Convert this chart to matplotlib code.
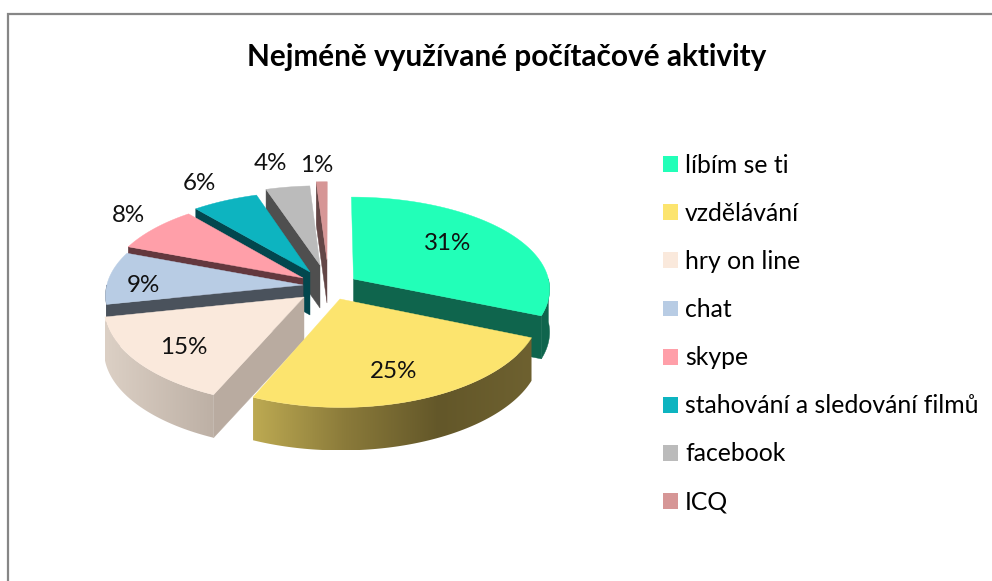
import matplotlib
matplotlib.use("Agg")
import matplotlib.patches as patches
import matplotlib.pyplot as plt
import numpy as np
from matplotlib.colors import LinearSegmentedColormap, to_rgb

title = "Nejméně využívané počítačové aktivity"
categories = ["líbím se ti", "vzdělávání", "hry on line", "chat", "skype",
              "stahování a sledování filmů", "facebook", "ICQ"]
values = [31, 25, 15, 9, 8, 6, 4, 1]

top_colors = ["#22FFB8", "#FCE46E", "#FAE9DC", "#B8CCE4",
              "#FF9FA9", "#0DB4C0", "#BBBBBB", "#D69696"]
wall_colors = ["#0F654D", "#6B5F2D", "#B9ABA0", "#4A525C",
               "#63383E", "#02474E", "#4F4F4F", "#634646"]
# left to right shading of the round walls, the others stay flat
wall_gradients = {
    1: ["#BDAA52", "#8A7A3A", "#635729", "#6E6130"],
    2: ["#DCD0C5", "#BDB0A5"],
}

# where the tip of every exploded slice ends up, in pixels
tips = [(353.5, 279), (340, 299), (304, 297), (303, 285),
        (303, 278), (310, 272), (320, 265), (327, 260)]
label_xy = [(448, 243), (394, 371), (184, 347), (143, 285),
            (128, 216), (199, 183), (270, 163), (317, 165)]
draw_order = [7, 6, 5, 4, 3, 0, 2, 1]

# flat perspective of the pie plane
cx, cy = 330, 289
fx, fy = 197, 93.5
persp_x, persp_y = 0.10, 0.115
depth = 43


def project(u, v):
    return cx + fx * u / (1 + persp_x * v), cy - fy * v / (1 + persp_y * v)


def unproject(x, y):
    d = cy - y
    v = d / (fy - persp_y * d)
    return (x - cx) * (1 + persp_x * v) / fx, v


def rim(u0, v0, a, b):
    t = np.radians(np.linspace(a, b, max(int(abs(b - a)) + 2, 3)))
    x, y = project(u0 + np.sin(t), v0 + np.cos(t))
    return np.column_stack([x, y])


def drop(pts):
    return pts + [0, depth]


def add_wall(ax, pts, color, zorder, gradient=None):
    if gradient is None:
        ax.add_patch(patches.Polygon(pts, fc=color, ec=color, lw=0.3, zorder=zorder))
        return
    clip = patches.Polygon(pts, transform=ax.transData, fc="none", ec="none")
    cmap = LinearSegmentedColormap.from_list("wall", [to_rgb(c) for c in gradient])
    x0, x1 = pts[:, 0].min(), pts[:, 0].max()
    im = ax.imshow(np.linspace(0, 1, 256).reshape(1, -1), cmap=cmap, aspect="auto",
                   extent=[x0, x1, pts[:, 1].max(), pts[:, 1].min()], zorder=zorder)
    im.set_clip_path(clip)


fig = plt.figure(figsize=(9.92, 5.81), dpi=100)
ax = fig.add_axes([0, 0, 1, 1])

total = sum(values)
edges = np.cumsum([0] + values) / total * 360

for rank, i in enumerate(draw_order):
    a, b = edges[i], edges[i + 1]
    u0, v0 = unproject(*tips[i])
    z = 10 + rank * 3
    apex = np.array([project(u0, v0)])
    arc = rim(u0, v0, a, b)

    # radial walls that face the viewer
    if 180 < a < 360:
        edge = np.vstack([apex, arc[:1]])
        add_wall(ax, np.vstack([edge, drop(edge)[::-1]]), wall_colors[i], z)
    if 0 < b < 180:
        edge = np.vstack([apex, arc[-1:]])
        add_wall(ax, np.vstack([edge, drop(edge)[::-1]]), wall_colors[i], z)

    # round wall, only the front half of the circle shows
    lo, hi = max(a, 90), min(b, 270)
    if lo < hi:
        front = rim(u0, v0, lo, hi)
        add_wall(ax, np.vstack([front, drop(front)[::-1]]), wall_colors[i], z + 1,
                 wall_gradients.get(i))

    ax.add_patch(patches.Polygon(np.vstack([apex, arc]), fc=top_colors[i],
                                 ec=top_colors[i], lw=0.3, zorder=z + 2))

for value, (x, y) in zip(values, label_xy):
    ax.text(x, y, f"{value}%", fontsize=17.4, family="Lato", color="#111111",
            ha="center", va="center", zorder=50)

ax.text(507, 57, title, fontsize=21.4, family="Lato", fontweight="bold",
        color="black", ha="center", va="center")

handles = [patches.Patch(fc=c, ec="none") for c in top_colors]
ax.legend(handles, categories, loc="upper left", bbox_to_anchor=(655.6, 146.5),
          bbox_transform=ax.transData, frameon=False,
          prop={"family": "Lato", "size": 17.8},
          labelspacing=1.015, handlelength=0.61, handleheight=0.61, handletextpad=0.28,
          borderpad=0.3, borderaxespad=0)

# frame of the original chart, cut off on the right and at the bottom
ax.plot([8, 8, 992], [581, 14, 14], color="#868686", lw=1.6, zorder=60,
        solid_joinstyle="miter")

ax.set_xlim(0, 992)
ax.set_ylim(581, 0)
ax.set_axis_off()
fig.savefig("out.png", dpi=100, facecolor="white")
